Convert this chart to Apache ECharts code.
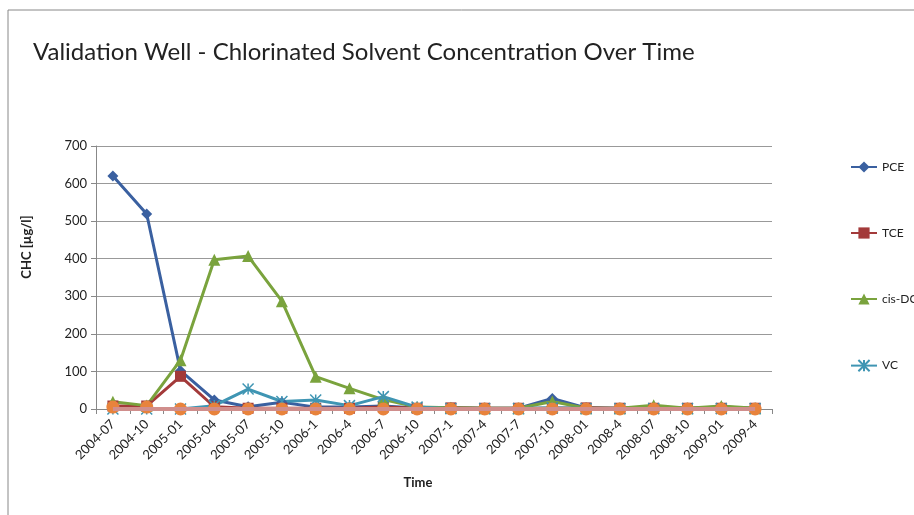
<!DOCTYPE html>
<html>
<head>
<meta charset="utf-8">
<script src="https://cdn.jsdelivr.net/npm/echarts@6/dist/echarts.min.js"></script>
<style>
html,body{margin:0;padding:0;background:#fff;}
#chart{width:914px;height:515px;}
</style>
</head>
<body>
<div id="chart"></div>
<script>
// sampling dates
var dates = ['2004-07','2004-10','2005-01','2005-04','2005-07','2005-10','2006-1','2006-4','2006-7','2006-10',
             '2007-1','2007-4','2007-7','2007-10','2008-01','2008-4','2008-07','2008-10','2009-01','2009-4'];
// concentrations in µg/l
var pce    = [620, 519, 102, 24, 6, 18, 5, 5, 8, 3, 3, 2, 2, 28, 3, 2, 5, 2, 5, 2];
var tce    = [8, 8, 87, 6, 2, 2, 2, 2, 5, 2, 3, 2, 2, 2, 3, 2, 2, 2, 2, 2];
var cisDce = [19, 9, 130, 397, 407, 287, 86, 55, 25, 5, 3, 2, 2, 20, 2, 2, 10, 2, 8, 2];
var vc     = [0, 0, 0, 9, 53, 20, 24, 9, 33, 5, 1, 1, 1, 3, 1, 1, 1, 1, 1, 1];
var other1 = [5, 5, 0, 0, 0, 0, 0, 0, 0, 0, 0, 0, 0, 0, 0, 0, 0, 0, 0, 0];
var other2 = [0, 0, 0, 0, 0, 0, 0, 0, 0, 0, 0, 0, 0, 0, 0, 0, 0, 0, 0, 0];
var yTicks = [0, 100, 200, 300, 400, 500, 600, 700];

var font = 'Lato';
var starPath = 'path://M10,0L10,20M0,0L20,20M20,0L0,20';

function lineSeries(name, data, color, symbol, size){
    return {
        name: name,
        type: 'line',
        data: data,
        symbol: symbol,
        symbolSize: size,
        showAllSymbol: true,
        lineStyle: { color: color, width: 3 },
        itemStyle: { color: color }
    };
}

var chart = echarts.init(document.getElementById('chart'));
var vcSeries = lineSeries('VC', vc, '#3f95b3', starPath, 11);
vcSeries.itemStyle = { color: '#3f95b3', borderColor: '#3f95b3', borderWidth: 1.5 };
var orangeSeries = lineSeries('other1', other1, '#e8833c', 'circle', 13);
orangeSeries.lineStyle = { width: 0 };

var option = {
    animation: false,
    textStyle: { fontFamily: font },
    title: {
        text: 'Validation Well - Chlorinated Solvent Concentration Over Time',
        left: 28,
        top: 35,
        textStyle: { fontFamily: font, fontSize: 24, fontWeight: 'normal', color: '#222' }
    },
    graphic: [
        { type: 'rect', shape: { x: 8, y: 10, width: 1000, height: 600 },
          style: { fill: 'none', stroke: '#888', lineWidth: 1 } },
        { type: 'text', x: 27, y: 247, rotation: Math.PI / 2,
          style: { text: 'CHC [µg/l]', fill: '#222', font: 'bold 13px Lato', textAlign: 'center', textVerticalAlign: 'middle' } },
        { type: 'text', x: 418, y: 483,
          style: { text: 'Time', fill: '#222', font: 'bold 13px Lato', textAlign: 'center', textVerticalAlign: 'middle' } }
    ],
    legend: {
        orient: 'vertical',
        left: 845,
        top: 156,
        itemGap: 54,
        itemWidth: 26,
        itemHeight: 14,
        data: ['PCE', 'TCE', 'cis-DCE', 'VC'],
        textStyle: { fontFamily: font, fontSize: 12, color: '#222' }
    },
    grid: { left: 96, right: 142, top: 146, bottom: 106 },
    xAxis: {
        type: 'category',
        data: dates,
        boundaryGap: true,
        axisLine: { lineStyle: { color: '#888' } },
        axisTick: { show: true, length: 5, lineStyle: { color: '#888' } },
        axisLabel: { rotate: 45, fontSize: 13, color: '#222', margin: 13, interval: 0 }
    },
    yAxis: {
        type: 'value',
        min: yTicks[0],
        max: yTicks[yTicks.length - 1],
        interval: 100,
        axisLine: { show: true, lineStyle: { color: '#888' } },
        axisTick: { show: true, length: 5, lineStyle: { color: '#888' } },
        axisLabel: { fontSize: 13, color: '#222', margin: 9 },
        splitLine: { lineStyle: { color: '#999' } }
    },
    series: [
        lineSeries('PCE', pce, '#3a60a0', 'diamond', 11),
        lineSeries('TCE', tce, '#a33a3a', 'rect', 11),
        lineSeries('cis-DCE', cisDce, '#7aa33d', 'triangle', 12),
        vcSeries,
        orangeSeries,
        {
            name: 'other2', type: 'line', data: other2, symbol: 'none', z: 5,
            lineStyle: { color: '#d08e8c', width: 4 }
        }
    ]
};
chart.setOption(option);
</script>
</body>
</html>
